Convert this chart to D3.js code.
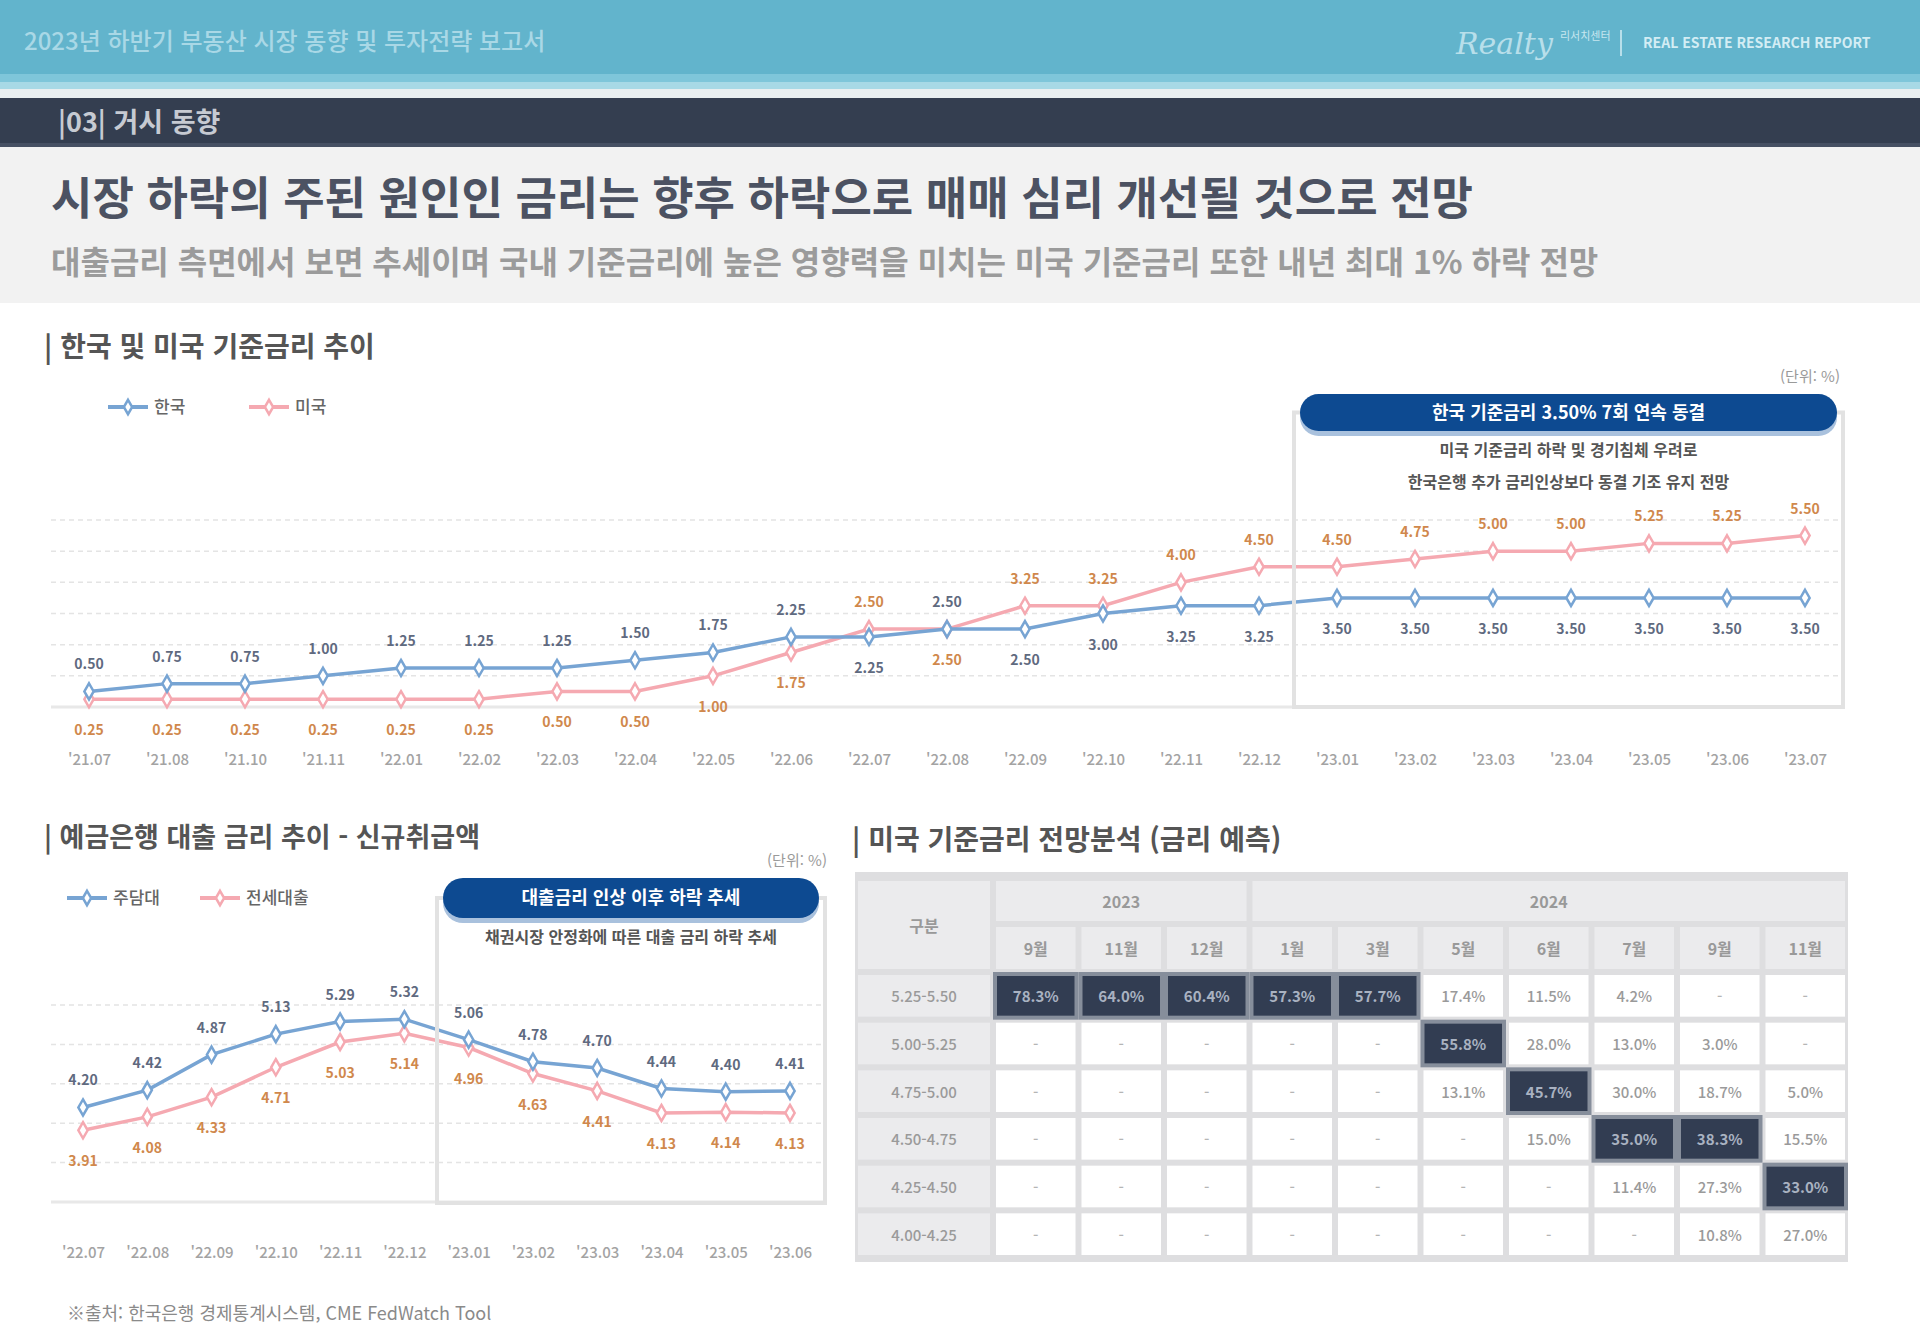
<!DOCTYPE html>
<html lang="ko">
<head>
<meta charset="utf-8">
<script src="https://cdn.jsdelivr.net/npm/d3@7"></script>
<style>
  html, body { margin: 0; padding: 0; background: #fff; }
  svg { display: block; font-family: "Noto Sans CJK KR", "Noto Sans", sans-serif; }
</style>
</head>
<body>
<svg id="page" width="1920" height="1329"></svg>
<script>
// ─── data ───
const rateDates = ["'21.07", "'21.08", "'21.10", "'21.11", "'22.01", "'22.02", "'22.03", "'22.04",
  "'22.05", "'22.06", "'22.07", "'22.08", "'22.09", "'22.10", "'22.11", "'22.12",
  "'23.01", "'23.02", "'23.03", "'23.04", "'23.05", "'23.06", "'23.07"];
const koreaRate = [0.5, 0.75, 0.75, 1.0, 1.25, 1.25, 1.25, 1.5, 1.75, 2.25, 2.25, 2.5,
  2.5, 3.0, 3.25, 3.25, 3.5, 3.5, 3.5, 3.5, 3.5, 3.5, 3.5];
const usRate = [0.25, 0.25, 0.25, 0.25, 0.25, 0.25, 0.5, 0.5, 1.0, 1.75, 2.5, 2.5,
  3.25, 3.25, 4.0, 4.5, 4.5, 4.75, 5.0, 5.0, 5.25, 5.25, 5.5];
const rateTicks = [0, 1, 2, 3, 4, 5, 6];

const loanDates = ["'22.07", "'22.08", "'22.09", "'22.10", "'22.11", "'22.12",
  "'23.01", "'23.02", "'23.03", "'23.04", "'23.05", "'23.06"];
const mortgageRate = [4.20, 4.42, 4.87, 5.13, 5.29, 5.32, 5.06, 4.78, 4.70, 4.44, 4.40, 4.41];
const jeonseRate   = [3.91, 4.08, 4.33, 4.71, 5.03, 5.14, 4.96, 4.63, 4.41, 4.13, 4.14, 4.13];
const loanTicks = [3.0, 3.5, 4.0, 4.5, 5.0, 5.5];

const fedYearLabels = ["2023", "2024"];
const fedYearSpans = [3, 7];
const fedMonths = ["9월", "11월", "12월", "1월", "3월", "5월", "6월", "7월", "9월", "11월"];
const fedRanges = ["5.25-5.50", "5.00-5.25", "4.75-5.00", "4.50-4.75", "4.25-4.50", "4.00-4.25"];
const fedProb = [
  [78.3, 64.0, 60.4, 57.3, 57.7, 17.4, 11.5, 4.2, null, null],
  [null, null, null, null, null, 55.8, 28.0, 13.0, 3.0, null],
  [null, null, null, null, null, 13.1, 45.7, 30.0, 18.7, 5.0],
  [null, null, null, null, null, null, 15.0, 35.0, 38.3, 15.5],
  [null, null, null, null, null, null, null, 11.4, 27.3, 33.0],
  [null, null, null, null, null, null, null, null, 10.8, 27.0]
];

const BLUE = "#77a4d3", PINK = "#f5a9b1";
const BLUE_TXT = "#5f6a80", PINK_TXT = "#d0884c";

const svg = d3.select("#page");

// ─── page header ───
svg.append("rect").attr("x", 0).attr("y", 0).attr("width", 1920).attr("height", 74).attr("fill", "#62b4cc");
svg.append("rect").attr("x", 0).attr("y", 74).attr("width", 1920).attr("height", 8).attr("fill", "#7fc6da");
svg.append("rect").attr("x", 0).attr("y", 82).attr("width", 1920).attr("height", 7).attr("fill", "#a8d9e6");
svg.append("rect").attr("x", 0).attr("y", 89).attr("width", 1920).attr("height", 9).attr("fill", "#e9eef0");
svg.append("rect").attr("x", 0).attr("y", 98).attr("width", 1920).attr("height", 49).attr("fill", "#343e50");
svg.append("rect").attr("x", 0).attr("y", 143).attr("width", 1920).attr("height", 4).attr("fill", "#465063");
svg.append("rect").attr("x", 0).attr("y", 147).attr("width", 1920).attr("height", 156).attr("fill", "#f2f2f2");

svg.append("text").attr("x", 24).attr("y", 50).attr("fill", "#a9d8e6")
  .attr("font-size", 24).attr("font-weight", 500)
  .text("2023년 하반기 부동산 시장 동향 및 투자전략 보고서");

svg.append("text").attr("x", 1456).attr("y", 54).attr("fill", "#b8dfea")
  .attr("font-size", 30).attr("font-style", "italic").attr("font-family", "DejaVu Serif")
  .text("Realty");
svg.append("text").attr("x", 1560).attr("y", 40).attr("fill", "#c6e6ef")
  .attr("font-size", 11).text("리서치센터");
svg.append("line").attr("x1", 1621).attr("x2", 1621).attr("y1", 30).attr("y2", 56)
  .attr("stroke", "#b8dfea").attr("stroke-width", 2);
svg.append("text").attr("x", 1643).attr("y", 48).attr("fill", "#d3edf4")
  .attr("font-size", 14).attr("font-weight", 700).text("REAL ESTATE RESEARCH REPORT");

svg.append("text").attr("x", 58).attr("y", 132).attr("fill", "#c6cad2")
  .attr("font-size", 27).attr("font-weight", 700).text("|03| 거시 동향");

svg.append("text").attr("x", 51).attr("y", 215).attr("fill", "#4c5262")
  .attr("font-size", 45).attr("font-weight", 700)
  .text("시장 하락의 주된 원인인 금리는 향후 하락으로 매매 심리 개선될 것으로 전망");
svg.append("text").attr("x", 51).attr("y", 274).attr("fill", "#9b9b9b")
  .attr("font-size", 32).attr("font-weight", 600)
  .text("대출금리 측면에서 보면 추세이며 국내 기준금리에 높은 영향력을 미치는 미국 기준금리 또한 내년 최대 1% 하락 전망");

// ─── shared helpers ───
function sectionTitle(x, y, txt, size) {
  svg.append("text").attr("x", x).attr("y", y).attr("fill", "#555")
    .attr("font-size", size).attr("font-weight", 700).text(txt);
}
function unitLabel(x, y) {
  svg.append("text").attr("x", x).attr("y", y).attr("text-anchor", "end")
    .attr("fill", "#9a9a9a").attr("font-size", 15).text("(단위: %)");
}
function legendItem(x, y, color, label) {
  svg.append("line").attr("x1", x).attr("x2", x + 40).attr("y1", y).attr("y2", y)
    .attr("stroke", color).attr("stroke-width", 4);
  svg.append("path").attr("d", d3.symbol(d3.symbolDiamond, 60)())
    .attr("transform", `translate(${x + 20},${y})`)
    .attr("fill", "#fff").attr("stroke", color).attr("stroke-width", 2.5);
  svg.append("text").attr("x", x + 46).attr("y", y + 6).attr("fill", "#666")
    .attr("font-size", 17).attr("font-weight", 500).text(label);
}
function calloutBox(x0, x1, pillY, pillH, boxBottom, title, lines) {
  svg.append("rect").attr("x", x0).attr("y", pillY + pillH / 2)
    .attr("width", x1 - x0).attr("height", boxBottom - pillY - pillH / 2)
    .attr("fill", "none").attr("stroke", "#e2e2e2").attr("stroke-width", 4);
  svg.append("rect").attr("x", x0 + 6).attr("y", pillY + 5)
    .attr("width", x1 - x0 - 12).attr("height", pillH).attr("rx", pillH / 2)
    .attr("fill", "#a9c1dd");
  svg.append("rect").attr("x", x0 + 6).attr("y", pillY)
    .attr("width", x1 - x0 - 12).attr("height", pillH).attr("rx", pillH / 2)
    .attr("fill", "#0d4a91");
  svg.append("text").attr("x", (x0 + x1) / 2).attr("y", pillY + pillH / 2 + 6)
    .attr("text-anchor", "middle").attr("fill", "#fff")
    .attr("font-size", 18).attr("font-weight", 700).text(title);
  lines.forEach((t, i) => {
    svg.append("text").attr("x", (x0 + x1) / 2).attr("y", pillY + pillH + 25 + i * 32)
      .attr("text-anchor", "middle").attr("fill", "#555")
      .attr("font-size", 16).attr("font-weight", 700).text(t);
  });
}

function lineChart(cfg) {
  const x = d3.scalePoint().domain(cfg.dates).range(cfg.xRange);
  const y = d3.scaleLinear().domain(cfg.yDomain).range(cfg.yRange);
  const g = svg.append("g");

  g.selectAll("line.grid").data(cfg.ticks).join("line").attr("class", "grid")
    .attr("x1", cfg.gridX[0]).attr("x2", cfg.gridX[1])
    .attr("y1", d => y(d)).attr("y2", d => y(d))
    .attr("stroke", (d, i) => i === 0 ? "#e8e8e8" : "#e4e4e4")
    .attr("stroke-width", (d, i) => i === 0 ? 3 : 1.5)
    .attr("stroke-dasharray", (d, i) => i === 0 ? null : "5,4");

  const ax = g.append("g").attr("transform", `translate(0,${cfg.yRange[0]})`)
    .call(d3.axisBottom(x).tickSize(0).tickPadding(cfg.tickPad));
  ax.select(".domain").remove();
  ax.attr("font-family", null);
  ax.selectAll("text").attr("fill", "#a3a3a3").attr("font-size", 15).attr("font-weight", 500);

  return { x, y, g };
}

function drawSeries(ch, dates, values, color) {
  const line = d3.line().x((d, i) => ch.x(dates[i])).y(d => ch.y(d));
  ch.g.append("path").datum(values).attr("d", line)
    .attr("fill", "none").attr("stroke", color).attr("stroke-width", 3.5);
  ch.g.selectAll(null).data(values).join("path")
    .attr("d", d3.symbol(d3.symbolDiamond, 75)())
    .attr("transform", (d, i) => `translate(${ch.x(dates[i])},${ch.y(d)})`)
    .attr("fill", "#fff").attr("stroke", color).attr("stroke-width", 2.5);
}

function drawLabels(ch, dates, hi, lo) {
  // higher series labelled above, lower series below
  dates.forEach((dt, i) => {
    const blueUp = hi[i] >= lo[i];
    ch.g.append("text").attr("x", ch.x(dt)).attr("y", ch.y(hi[i]) + (blueUp ? -22 : 36))
      .attr("text-anchor", "middle").attr("fill", BLUE_TXT)
      .attr("font-size", 14).attr("font-weight", 700).text(d3.format(".2f")(hi[i]));
    ch.g.append("text").attr("x", ch.x(dt)).attr("y", ch.y(lo[i]) + (blueUp ? 36 : -22))
      .attr("text-anchor", "middle").attr("fill", PINK_TXT)
      .attr("font-size", 14).attr("font-weight", 700).text(d3.format(".2f")(lo[i]));
  });
}

// ─── chart 1: 한국 및 미국 기준금리 ───
sectionTitle(44, 357, "| 한국 및 미국 기준금리 추이", 28);
unitLabel(1840, 382);
legendItem(108, 407, BLUE, "한국");
legendItem(249, 407, PINK, "미국");

const ch1 = lineChart({
  dates: rateDates, xRange: [89, 1805], yDomain: [0, 6], yRange: [707, 520],
  ticks: rateTicks, gridX: [51, 1843], tickPad: 47
});
calloutBox(1294, 1843, 394, 37, 707, "한국 기준금리 3.50% 7회 연속 동결",
  ["미국 기준금리 하락 및 경기침체 우려로", "한국은행 추가 금리인상보다 동결 기조 유지 전망"]);
drawSeries(ch1, rateDates, usRate, PINK);
drawSeries(ch1, rateDates, koreaRate, BLUE);
drawLabels(ch1, rateDates, koreaRate, usRate);

// ─── chart 2: 예금은행 대출 금리 ───
sectionTitle(44, 847, "| 예금은행 대출 금리 추이 - 신규취급액", 27);
unitLabel(827, 866);
legendItem(67, 898, BLUE, "주담대");
legendItem(200, 898, PINK, "전세대출");

const ch2 = lineChart({
  dates: loanDates, xRange: [83, 790], yDomain: [3.0, 5.5], yRange: [1202, 1005],
  ticks: loanTicks, gridX: [51, 827], tickPad: 45
});
calloutBox(437, 825, 878, 40, 1203, "대출금리 인상 이후 하락 추세",
  ["채권시장 안정화에 따른 대출 금리 하락 추세"]);
drawSeries(ch2, loanDates, jeonseRate, PINK);
drawSeries(ch2, loanDates, mortgageRate, BLUE);
drawLabels(ch2, loanDates, mortgageRate, jeonseRate);

svg.append("text").attr("x", 67).attr("y", 1320).attr("fill", "#8a8a8a")
  .attr("font-size", 18).text("※출처: 한국은행 경제통계시스템, CME FedWatch Tool");

// ─── table: 미국 기준금리 전망 ───
sectionTitle(852, 850, "| 미국 기준금리 전망분석 (금리 예측)", 28);

const T = { x0: 855, x1: 1848, top: 878, h1: 46, h2: 48, bottom: 1258, labelW: 138 };
const colX = d3.scaleBand().domain(d3.range(fedMonths.length)).range([T.x0 + T.labelW, T.x1]);
const rowY = d3.scaleBand().domain(fedRanges).range([T.top + T.h1 + T.h2, T.bottom]);
const tg = svg.append("g");
const gap = 3;

tg.append("rect").attr("x", T.x0).attr("y", T.top - 6).attr("width", T.x1 - T.x0)
  .attr("height", T.bottom - T.top + 10).attr("fill", "#dedee0");

function cell(x, y, w, h, fill) {
  tg.append("rect").attr("x", x + gap).attr("y", y + gap)
    .attr("width", w - gap * 2).attr("height", h - gap * 2).attr("fill", fill);
}
function cellText(x, y, txt, color, size, weight) {
  tg.append("text").attr("x", x).attr("y", y).attr("text-anchor", "middle")
    .attr("dominant-baseline", "central").attr("fill", color)
    .attr("font-size", size).attr("font-weight", weight || 500).text(txt);
}

// header
cell(T.x0, T.top, T.labelW, T.h1 + T.h2, "#ebebed");
cellText(T.x0 + T.labelW / 2, T.top + (T.h1 + T.h2) / 2, "구분", "#999", 16, 700);
let c0 = 0;
fedYearLabels.forEach((yr, k) => {
  const xa = colX(c0), xb = colX(c0 + fedYearSpans[k] - 1) + colX.bandwidth();
  cell(xa, T.top, xb - xa, T.h1, "#ebebed");
  cellText((xa + xb) / 2, T.top + T.h1 / 2, yr, "#999", 16, 700);
  c0 += fedYearSpans[k];
});
fedMonths.forEach((m, j) => {
  cell(colX(j), T.top + T.h1, colX.bandwidth(), T.h2, "#ebebed");
  cellText(colX(j) + colX.bandwidth() / 2, T.top + T.h1 + T.h2 / 2, m, "#999", 16, 700);
});

// body — highlight the most likely range in each column
const colMax = fedMonths.map((m, j) => d3.maxIndex(fedProb, r => r[j] == null ? -1 : r[j]));
fedRanges.forEach((rg, i) => {
  const y = rowY(rg), h = rowY.bandwidth();
  cell(T.x0, y, T.labelW, h, "#ebebed");
  cellText(T.x0 + T.labelW / 2, y + h / 2, rg, "#9a9a9a", 15, 500);
  fedProb[i].forEach((v, j) => {
    const x = colX(j), w = colX.bandwidth();
    const hl = colMax[j] === i && v != null;
    if (hl) {
      tg.append("rect").attr("x", x).attr("y", y).attr("width", w).attr("height", h).attr("fill", "#868e9b");
      tg.append("rect").attr("x", x + 4).attr("y", y + 4).attr("width", w - 8).attr("height", h - 8).attr("fill", "#323d52");
      cellText(x + w / 2, y + h / 2, d3.format(".1f")(v) + "%", "#a9b2c1", 15, 700);
    } else {
      cell(x, y, w, h, "#fff");
      cellText(x + w / 2, y + h / 2, v == null ? "-" : d3.format(".1f")(v) + "%",
        v == null ? "#b5b5b5" : "#9a9a9a", 15, 500);
    }
  });
});
</script>
</body>
</html>
